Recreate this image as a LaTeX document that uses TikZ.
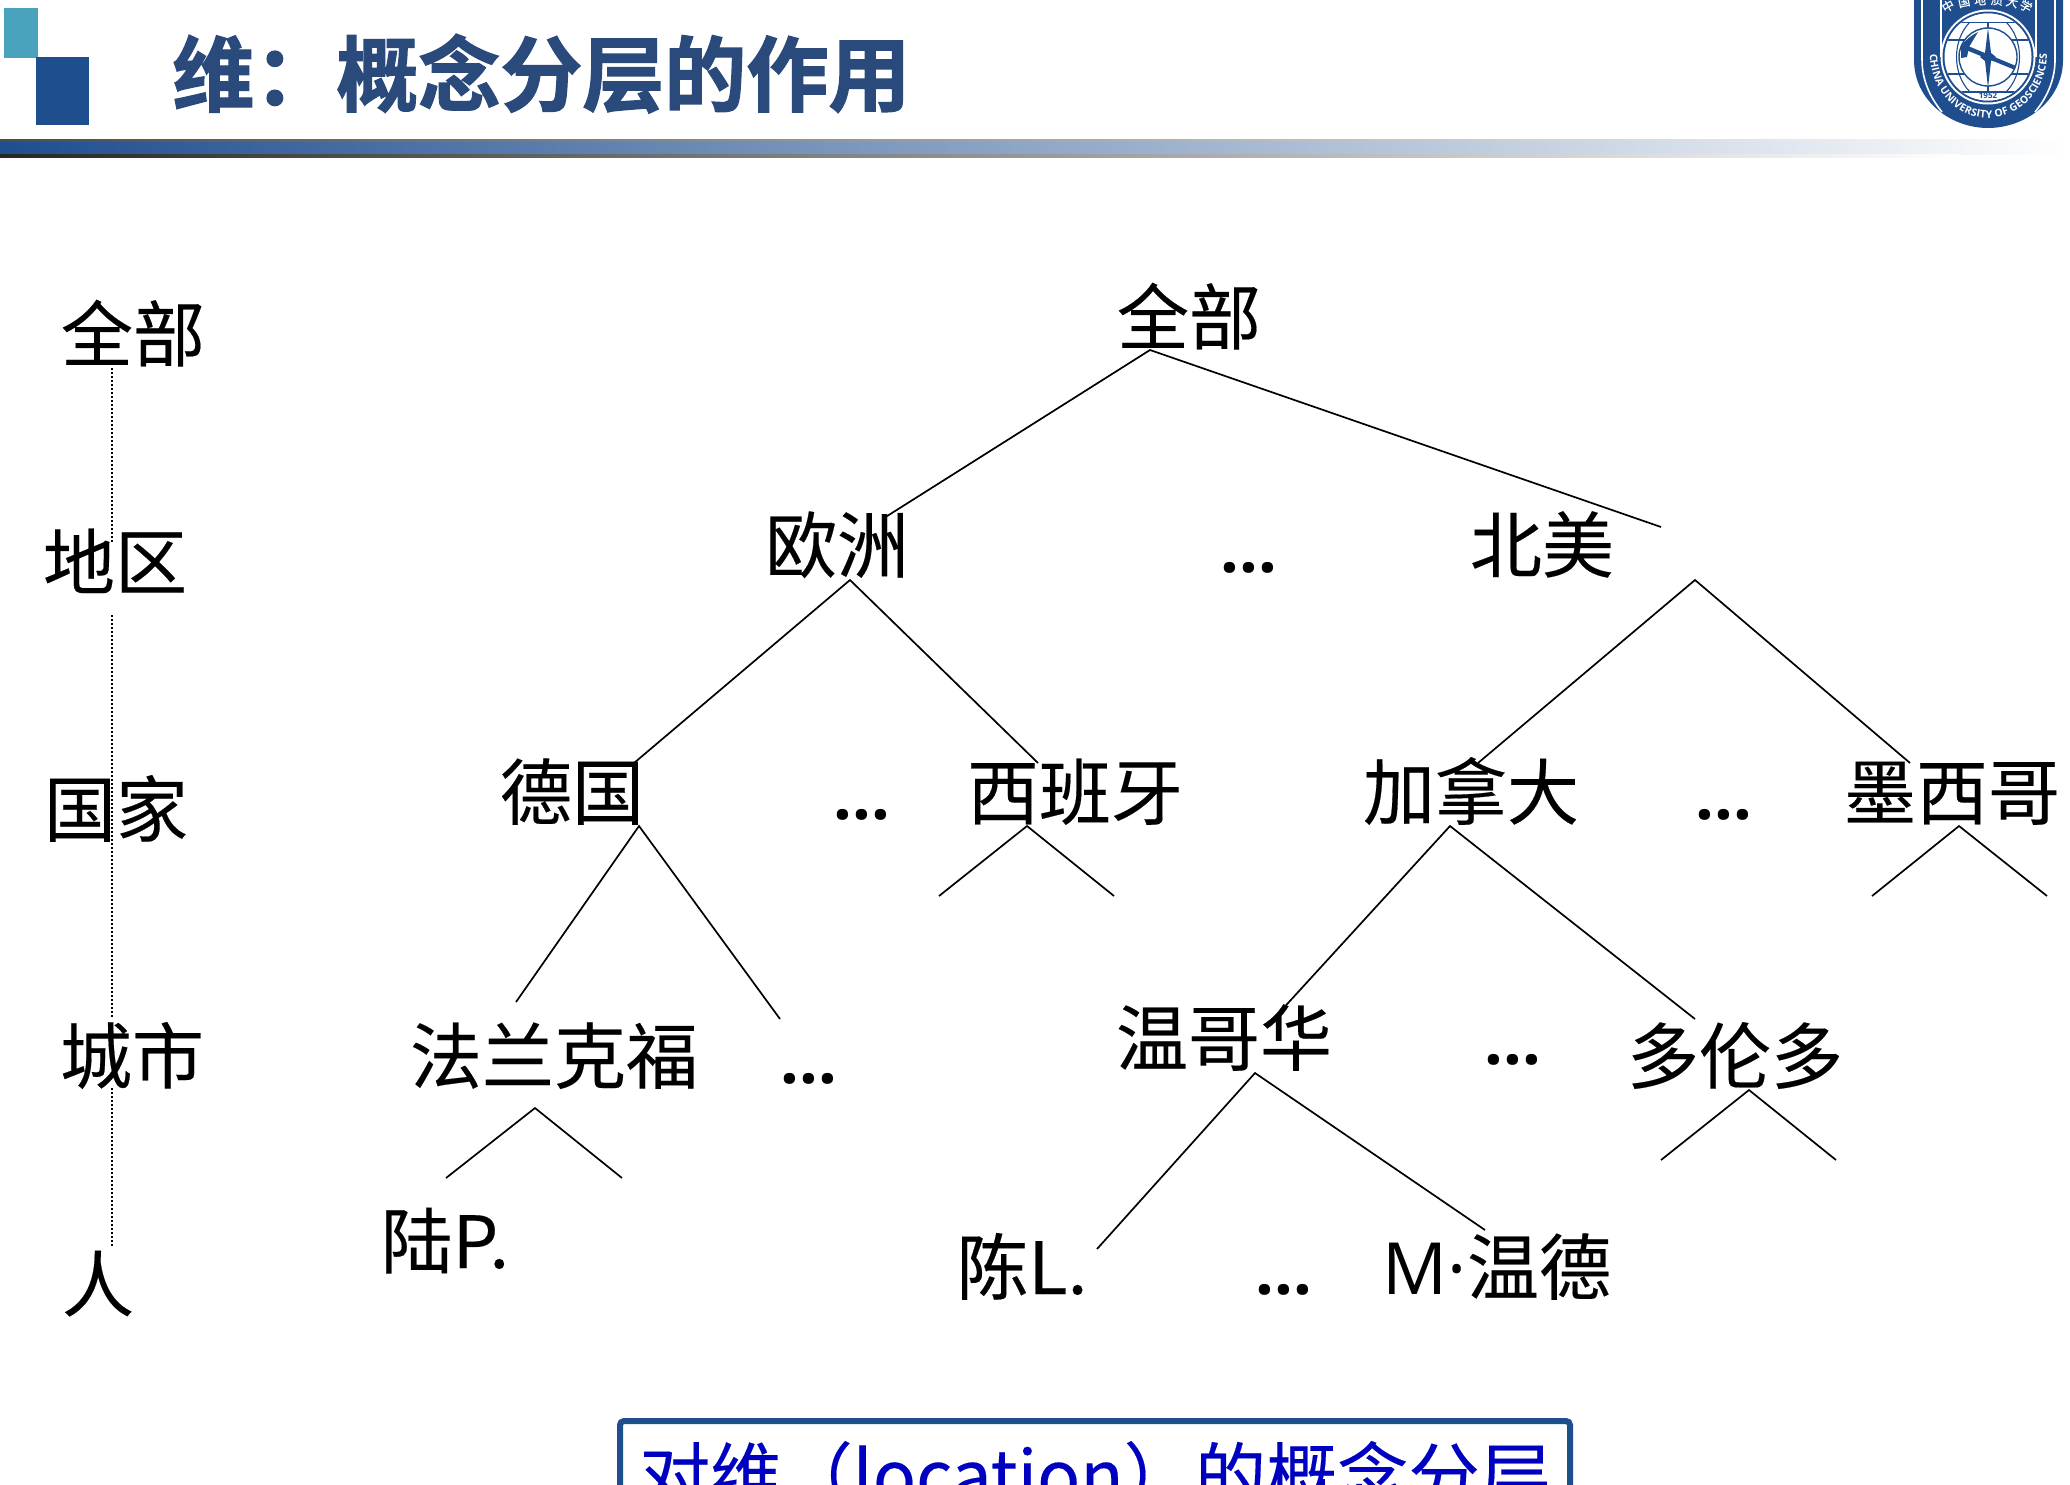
\documentclass[tikz,border=0pt]{standalone}
\usepackage{fontspec}
\usetikzlibrary{decorations.text}
\setmainfont[FakeBold=0.25]{Noto Sans CJK SC}
\newfontfamily\ttlfont[FakeBold=1.6]{Noto Sans CJK SC Bold}
\newfontfamily\sealfont{Open Sans}
\definecolor{barblue}{HTML}{1F4E8F}
\definecolor{midblue}{HTML}{7A9AC3}
\definecolor{ttlblue}{HTML}{2B4A7C}
\definecolor{teal1}{HTML}{4AA3BC}
\definecolor{boxtxt}{HTML}{0000C0}
\tikzset{
  lbl/.style={anchor=base,inner sep=0pt,font=\fontsize{36}{40}\selectfont},
  dots/.style={anchor=base,inner sep=0pt,font=\sealfont\bfseries\fontsize{33}{40}\selectfont},
  edge/.style={draw=black,line width=0.85pt},
  dotline/.style={draw=black,line width=1pt,dash pattern=on 1.1pt off 0.9pt},
  sealline/.style={draw=white,line width=0.8pt},
  gridline/.style={draw=barblue,line width=0.55pt}
}
\begin{document}
\begin{tikzpicture}[x=0.5pt,y=-0.5pt]
\useasboundingbox (0,0) rectangle (2070,1484);
\clip (0,0) rectangle (2070,1484);
\fill[white] (0,0) rectangle (2070,1484);
% header
\fill[teal1] (4,8) rectangle (38,58);
\fill[barblue] (36,57) rectangle (89,125);
\node[anchor=base west,inner sep=0pt,text=ttlblue,font=\ttlfont\fontsize{41}{44}\selectfont] (title) at (172,105) {维：概念分层的作用};
\shade[left color=barblue,middle color=midblue,right color=white] (0,141) rectangle (2070,154);
\shade[left color=black!70,right color=white] (0,139.5) rectangle (2070,141);
\shade[left color=black!85,right color=white] (0,154) rectangle (1960,157);
% seal
\fill[barblue] (1914,-5) -- (1914,60) .. controls (1914,100) and (1950,128) .. (1988,128) .. controls (2026,128) and (2063,100) .. (2063,60) -- (2063,-5) -- cycle;
\draw[sealline] (1922,-5) -- (1922,60) .. controls (1922,82) and (1932,100) .. (1942,112);
\draw[sealline] (2055,-5) -- (2055,60) .. controls (2055,82) and (2045,100) .. (2035,112);
\draw[sealline] (1941,-5) -- (1941,57);
\draw[sealline] (2036,-5) -- (2036,57);
\fill[white] (1988,57) circle[radius=47.5];
\fill[barblue] (1988,57) circle[radius=45.5];
\fill[white] (1988,57) circle[radius=43.5];
\begin{scope}
\clip (1988,57) circle[radius=43.5];
\foreach \yy in {22,40,74,92} \draw[gridline] (1940,\yy) -- (2036,\yy);
\draw[gridline] (1988,10) -- (1988,104);
\draw[gridline] (1970,22) .. controls (1952,40) and (1952,74) .. (1970,92);
\draw[gridline] (2006,22) .. controls (2024,40) and (2024,74) .. (2006,92);
\draw[gridline] (1955,22) .. controls (1940,40) and (1940,74) .. (1955,92);
\draw[gridline] (2021,22) .. controls (2036,40) and (2036,74) .. (2021,92);
\fill[white] (1940,8) rectangle (2036,21.5);
\fill[white] (1940,92.5) rectangle (2036,106);
\end{scope}
\filldraw[draw=barblue,fill=white,line width=0.7pt] (1988,57) circle[radius=29];
\fill[barblue] (1968,46) -- (2016,66) -- (2014,69.5) -- (1966,50) -- cycle;
\fill[barblue] (1961,58) -- (1961,46) .. controls (1965,40) and (1972,35) .. (1978,32) -- (1969,47) -- (1967,57) -- cycle;
\fill[barblue] (1988,28) -- (1991,53) -- (1996,57) -- (1991,61) -- (1988,88) -- (1985,61) -- (1980,57) -- (1985,53) -- cycle;
\node[inner sep=0pt,text=barblue,font=\sealfont\bfseries\fontsize{4}{5}\selectfont] (year) at (1988,96) {1952};
\path[decorate,decoration={text along path,text align=fit to path,text color=white,text={|\sealfont\bfseries\fontsize{5.2}{6}\selectfont|CHINA UNIVERSITY OF GEOSCIENCES}}]
  (1930,54) .. controls (1930,90) and (1956,118) .. (1988,118) .. controls (2020,118) and (2047,90) .. (2047,54);
\foreach \cc/\xx/\yy/\rr in {中/1948/6/30,国/1964/2/12,地/1980/0/4,质/1997/0/-4,大/2012/2/-12,学/2026/6/-30}
  \node[inner sep=0pt,text=white,rotate=\rr,font=\fontsize{6}{6}\selectfont] at (\xx,\yy) {\cc};
% level column
\node[lbl] (l1) at (133,361) {全部};
\node[lbl] (l2) at (115,589) {地区};
\node[lbl] (l3) at (116,836) {国家};
\node[lbl] (l4) at (132,1083) {城市};
\node[lbl] (l5) at (98,1311) {人};
\coordinate (d1a) at (112,368); \coordinate (d1b) at (112,542);
\coordinate (d2a) at (112,615); \coordinate (d2b) at (112,1017);
\coordinate (d3a) at (112,1088); \coordinate (d3b) at (112,1246);
\draw[dotline] (d1a) -- (d1b);
\draw[dotline] (d2a) -- (d2b);
\draw[dotline] (d3a) -- (d3b);
% tree labels
\node[lbl] (root) at (1189,344) {全部};
\node[lbl] (eu) at (837,572) {欧洲};
\node[dots] (d1) at (1249,572) {...};
\node[lbl] (na) at (1542,572) {北美};
\node[lbl] (de) at (572,819) {德国};
\node[dots] (d2) at (862,819) {...};
\node[lbl] (es) at (1075,819) {西班牙};
\node[lbl] (ca) at (1471,819) {加拿大};
\node[dots] (d3) at (1724,819) {...};
\node[lbl] (mx) at (1952,819) {墨西哥};
\node[lbl] (ff) at (554,1083) {法兰克福};
\node[dots] (d4) at (809,1083) {...};
\node[lbl] (va) at (1224,1065) {温哥华};
\node[dots] (d5) at (1513,1064) {...};
\node[lbl] (to) at (1735,1083) {多伦多};
\node[lbl] (lu) at (445,1268) {陆P.};
\node[lbl] (ch) at (1022,1294) {陈L.};
\node[dots] (d6) at (1284,1294) {...};
\node[lbl] (mw) at (1497,1294) {{\sealfont M·}温德};
% tree edges
\coordinate (rA) at (1150,350); \coordinate (rL) at (884,518); \coordinate (rR) at (1661,527);
\coordinate (eA) at (850,580); \coordinate (eL) at (634,763); \coordinate (eR) at (1038,763);
\coordinate (nA) at (1695,580); \coordinate (nL) at (1478,763); \coordinate (nR) at (1910,763);
\coordinate (gA) at (639,826); \coordinate (gL) at (516,1002); \coordinate (gR) at (780,1019);
\coordinate (sA) at (1027,826); \coordinate (sL) at (939,896); \coordinate (sR) at (1114,896);
\coordinate (cA) at (1450,826); \coordinate (cL) at (1278,1014); \coordinate (cR) at (1695,1019);
\coordinate (mA) at (1959,826); \coordinate (mL) at (1872,896); \coordinate (mR) at (2047,896);
\coordinate (fA) at (535,1108); \coordinate (fL) at (446,1178); \coordinate (fR) at (622,1178);
\coordinate (vA) at (1255,1073); \coordinate (vL) at (1097,1249); \coordinate (vR) at (1485,1230);
\coordinate (tA) at (1749,1090); \coordinate (tL) at (1661,1160); \coordinate (tR) at (1836,1160);
\foreach \a/\b/\c in {rL/rA/rR,eL/eA/eR,nL/nA/nR,gL/gA/gR,sL/sA/sR,cL/cA/cR,mL/mA/mR,fL/fA/fR,vL/vA/vR,tL/tA/tR}
  \draw[edge,line join=miter] (\a) -- (\b) -- (\c);
% caption box
\draw[draw=barblue,line width=3pt,rounded corners=2pt] (620,1421) rectangle (1570,1560);
\node[anchor=base,inner sep=0pt,text=boxtxt,font=\fontsize{35.6}{40}\selectfont] (cap) at (1095,1502) {对维（location）的概念分层};
\end{tikzpicture}
\end{document}
